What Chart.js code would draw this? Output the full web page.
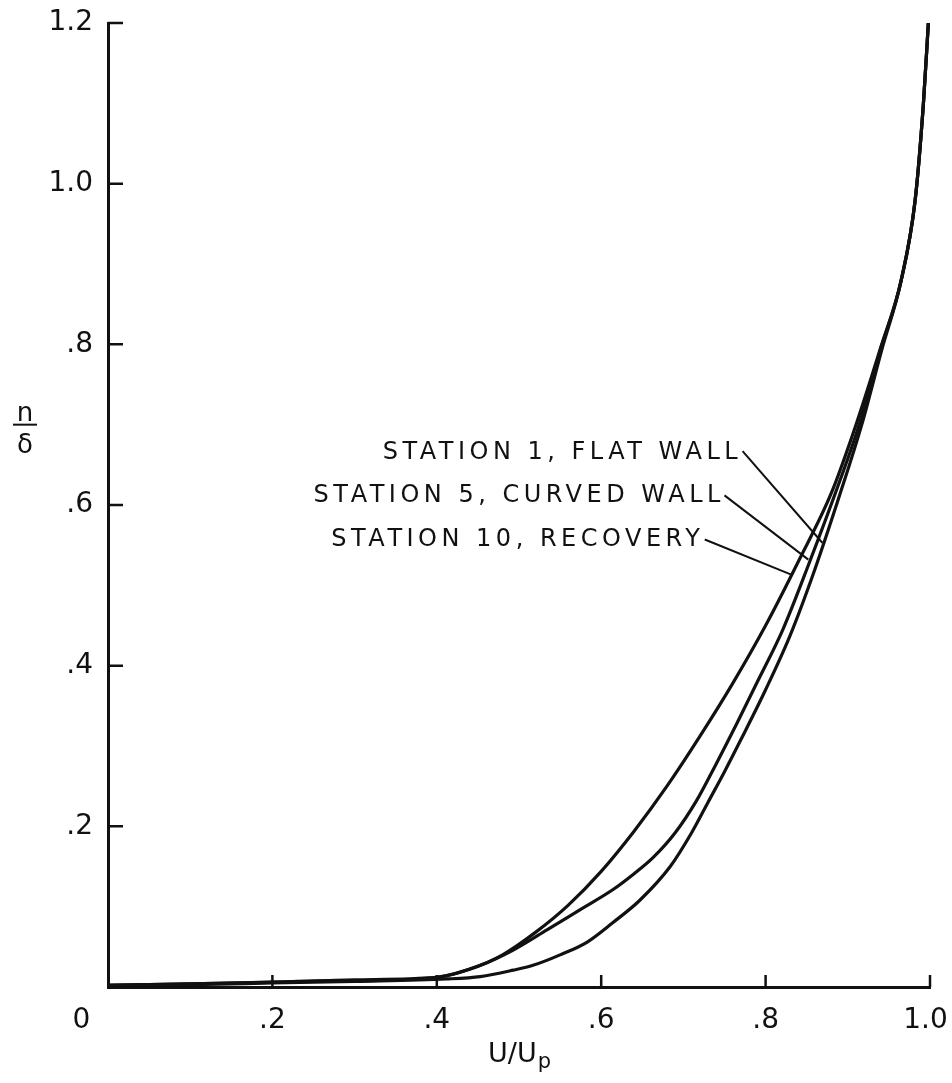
<!DOCTYPE html>
<html>
<head>
<meta charset="utf-8">
<script src="https://cdn.jsdelivr.net/npm/chart.js@4/dist/chart.umd.min.js"></script>
<style>
  html, body { margin: 0; padding: 0; background: #fff; }
  #wrap { width: 952px; height: 1083px; }
</style>
</head>
<body>
<div id="wrap"><canvas id="myChart"></canvas></div>
<script>
// Axis ticks
const xTicks = [0, 0.2, 0.4, 0.6, 0.8, 1.0];
const xTickLabels = ['0', '.2', '.4', '.6', '.8', '1.0'];
const yTicks = [0, 0.2, 0.4, 0.6, 0.8, 1.0, 1.2];
const yTickLabels = ['', '.2', '.4', '.6', '.8', '1.0', '1.2'];

// Station 1, flat wall
const uStation1 = [0, 0.1, 0.2, 0.3, 0.412, 0.453, 0.493, 0.517, 0.55, 0.583, 0.614, 0.647, 0.684, 0.71, 0.73, 0.75, 0.77, 0.80, 0.83, 0.86, 0.89, 0.917, 0.941, 0.965, 0.982, 0.992, 0.998];
const yStation1 = [0.002, 0.003, 0.005, 0.007, 0.010, 0.013, 0.021, 0.027, 0.040, 0.056, 0.080, 0.108, 0.150, 0.192, 0.230, 0.268, 0.308, 0.370, 0.438, 0.520, 0.612, 0.700, 0.792, 0.880, 0.980, 1.100, 1.2];

// Station 5, curved wall
const uStation5 = [0, 0.1, 0.2, 0.3, 0.4, 0.453, 0.493, 0.534, 0.574, 0.614, 0.64, 0.663, 0.69, 0.716, 0.74, 0.765, 0.79, 0.821, 0.852, 0.891, 0.912, 0.94, 0.965, 0.982, 0.992, 0.998];
const yStation5 = [0.002, 0.004, 0.006, 0.008, 0.012, 0.027, 0.046, 0.071, 0.096, 0.121, 0.141, 0.161, 0.192, 0.232, 0.278, 0.328, 0.380, 0.445, 0.525, 0.632, 0.694, 0.794, 0.880, 0.980, 1.100, 1.2];

// Station 10, recovery
const uStation10 = [0, 0.1, 0.2, 0.3, 0.4, 0.44, 0.48, 0.52, 0.56, 0.60, 0.64, 0.68, 0.72, 0.76, 0.80, 0.84, 0.88, 0.91, 0.94, 0.965, 0.982, 0.992, 0.998];
const yStation10 = [0.002, 0.004, 0.006, 0.009, 0.012, 0.022, 0.040, 0.068, 0.102, 0.144, 0.194, 0.250, 0.312, 0.378, 0.450, 0.530, 0.615, 0.700, 0.796, 0.880, 0.980, 1.100, 1.2];

// Curve labels with leader lines (data coords)
const curveLabels = [
  { text: 'STATION 1, FLAT WALL',   tx: 0.766, ty: 0.665, from: [0.772, 0.667], to: [0.869, 0.553] },
  { text: 'STATION 5, CURVED WALL', tx: 0.745, ty: 0.611, from: [0.750, 0.612], to: [0.852, 0.532] },
  { text: 'STATION 10, RECOVERY',   tx: 0.720, ty: 0.557, from: [0.726, 0.557], to: [0.832, 0.513] }
];

const toPoints = (us, ys) => us.map((u, i) => ({ x: u, y: ys[i] }));
const INK = '#111';
const FONT = "'DejaVu Sans', sans-serif";

function curve(us, ys) {
  return {
    data: toPoints(us, ys),
    showLine: true,
    borderColor: INK,
    borderWidth: 3.2,
    pointRadius: 0,
    cubicInterpolationMode: 'monotone',
    fill: false
  };
}

// inward ticks, axis titles and the curve labels
const paperDecor = {
  id: 'paperDecor',
  afterDraw(chart) {
    const { ctx, chartArea, scales } = chart;
    const xs = scales.x, ys = scales.y;
    ctx.save();
    ctx.strokeStyle = INK;
    ctx.fillStyle = INK;
    ctx.lineWidth = 2.5;
    ctx.lineCap = 'butt';

    // ticks pointing into the plot
    ctx.beginPath();
    xTicks.slice(1).forEach(v => {
      const px = xs.getPixelForValue(v);
      ctx.moveTo(px, chartArea.bottom);
      ctx.lineTo(px, chartArea.bottom - 12);
    });
    yTicks.slice(1).forEach(v => {
      const py = ys.getPixelForValue(v);
      ctx.moveTo(chartArea.left, py);
      ctx.lineTo(chartArea.left + 15, py);
    });
    ctx.stroke();

    // x title: U/Up
    const cx = (chartArea.left + chartArea.right) / 2;
    const base = chartArea.bottom + 75;
    ctx.font = '27px ' + FONT;
    const w1 = ctx.measureText('U/U').width;
    ctx.font = '21px ' + FONT;
    const w2 = ctx.measureText('p').width;
    let sx = cx - (w1 + w2) / 2;
    ctx.textAlign = 'left';
    ctx.textBaseline = 'alphabetic';
    ctx.font = '27px ' + FONT;
    ctx.fillText('U/U', sx, base);
    ctx.font = '21px ' + FONT;
    ctx.fillText('p', sx + w1 + 1, base + 6);

    // y title: n over delta
    const fx = chartArea.left - 83;
    const fy = ys.getPixelForValue(0.7);
    ctx.textAlign = 'center';
    ctx.font = '26px ' + FONT;
    ctx.fillText('n', fx, fy - 4);
    ctx.lineWidth = 2;
    ctx.beginPath();
    ctx.moveTo(fx - 12, fy);
    ctx.lineTo(fx + 12, fy);
    ctx.stroke();
    ctx.fillText('δ', fx, fy + 28);

    // curve labels
    const spacing = 4.5;
    ctx.font = '24px ' + FONT;
    ctx.letterSpacing = spacing + 'px';
    ctx.textAlign = 'right';
    ctx.textBaseline = 'middle';
    curveLabels.forEach(l => {
      ctx.fillText(l.text, xs.getPixelForValue(l.tx) + spacing, ys.getPixelForValue(l.ty));
      ctx.beginPath();
      ctx.moveTo(xs.getPixelForValue(l.from[0]), ys.getPixelForValue(l.from[1]));
      ctx.lineTo(xs.getPixelForValue(l.to[0]), ys.getPixelForValue(l.to[1]));
      ctx.stroke();
    });
    ctx.restore();
  }
};

const ctx = document.getElementById('myChart').getContext('2d');

new Chart(ctx, {
  type: 'scatter',
  data: {
    datasets: [
      curve(uStation1, yStation1),
      curve(uStation5, yStation5),
      curve(uStation10, yStation10)
    ]
  },
  options: {
    responsive: true,
    maintainAspectRatio: false,
    animation: false,
    layout: { padding: { top: 23, right: 22, left: 0, bottom: 0 } },
    plugins: {
      legend: { display: false },
      tooltip: { enabled: false }
    },
    scales: {
      x: {
        type: 'linear',
        min: 0,
        max: 1,
        afterBuildTicks: s => { s.ticks = xTicks.map(v => ({ value: v })); },
        afterFit: s => { s.height = 96; s.paddingLeft = 0; s.paddingRight = 0; },
        grid: { display: false, drawTicks: false },
        border: { display: true, color: INK, width: 3 },
        ticks: {
          color: INK,
          padding: 17,
          maxRotation: 0,
          font: { family: FONT, size: 28 },
          // trailing spaces nudge the end labels inward, as on the original
          callback: (v, i) => {
            if (i === 0) return xTickLabels[0] + '      ';
            if (i === xTickLabels.length - 1) return xTickLabels[i] + ' ';
            return xTickLabels[i];
          }
        }
      },
      y: {
        type: 'linear',
        min: 0,
        max: 1.2,
        afterBuildTicks: s => { s.ticks = yTicks.map(v => ({ value: v })); },
        afterFit: s => { s.width = 108; s.paddingTop = 0; s.paddingBottom = 0; },
        grid: { display: false, drawTicks: false },
        border: { display: true, color: INK, width: 3 },
        ticks: {
          color: INK,
          padding: 15,
          font: { family: FONT, size: 28 },
          callback: (v, i) => yTickLabels[i]
        }
      }
    }
  },
  plugins: [paperDecor]
});
</script>
</body>
</html>
